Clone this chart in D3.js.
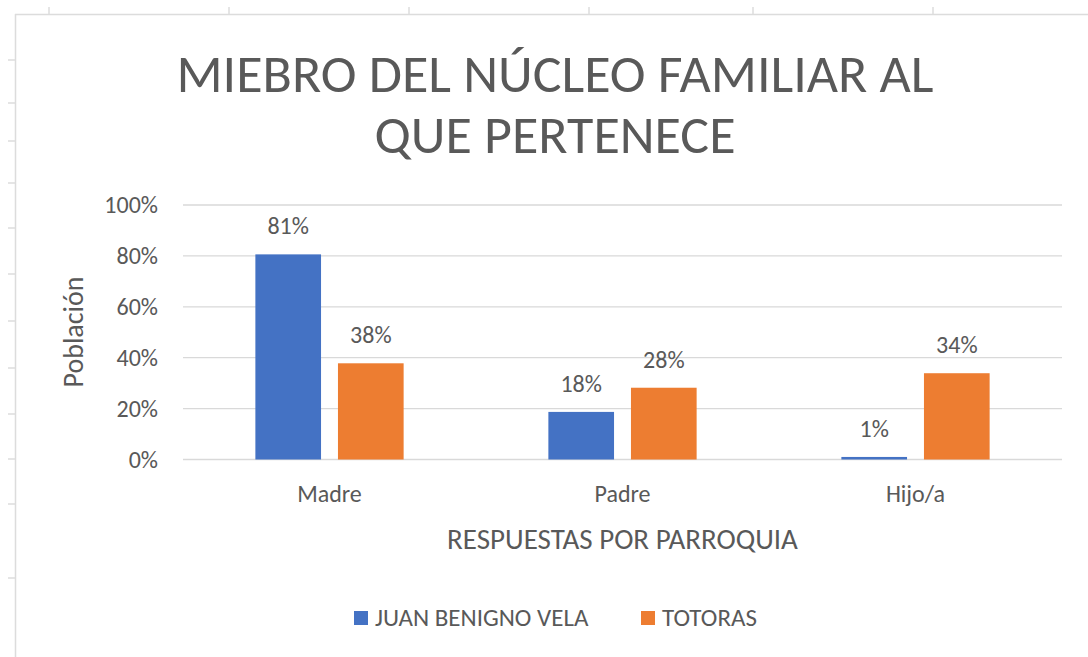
<!DOCTYPE html>
<html>
<head>
<meta charset="utf-8">
<script src="https://cdn.jsdelivr.net/npm/d3@7"></script>
<style>
  body { margin: 0; background: #fff; }
  svg text { font-family: Carlito, Lato, "Open Sans", sans-serif; fill: #595959; }
</style>
</head>
<body>
<div id="chart"></div>
<script>
// data
var categories = ["Madre", "Padre", "Hijo/a"];
var seriesNames = ["JUAN BENIGNO VELA", "TOTORAS"];
var juanBenignoVela = [0.806, 0.187, 0.01];
var totoras = [0.378, 0.282, 0.339];
var dataLabels = [["81%", "18%", "1%"], ["38%", "28%", "34%"]];
var yTicks = [0, 0.2, 0.4, 0.6, 0.8, 1];
var titleLines = ["MIEBRO DEL NÚCLEO FAMILIAR AL", "QUE PERTENECE"];
var colors = ["#4472C4", "#ED7D31"];

// spreadsheet frame behind the chart (column / row borders)
var sheetCols = [49, 229, 409, 589, 753, 933];
var sheetRows = [60, 103, 141, 183, 228, 274, 321, 368, 414, 459, 504, 578];

var W = 1088, H = 657;
var plot = { left: 183, right: 1062, top: 205, bottom: 459.5 };

var svg = d3.select("#chart")
    .append("svg")
    .attr("width", W)
    .attr("height", H);

// sheet lines
var sheet = svg.append("g").attr("stroke", "#dcdcdc").attr("stroke-width", 1.5);
sheet.append("line").attr("x1", 15).attr("x2", W).attr("y1", 14.5).attr("y2", 14.5);
sheet.append("line").attr("x1", 15.5).attr("x2", 15.5).attr("y1", 14).attr("y2", H);
sheet.selectAll(".ct").data(sheetCols).enter().append("line")
    .attr("x1", function (d) { return d }).attr("x2", function (d) { return d })
    .attr("y1", 7).attr("y2", 14);
sheet.selectAll(".rt").data(sheetRows).enter().append("line")
    .attr("y1", function (d) { return d }).attr("y2", function (d) { return d })
    .attr("x1", 8).attr("x2", 15);

// scales
var x0 = d3.scaleBand()
    .domain(categories)
    .range([plot.left, plot.right])
    .paddingInner(0.494)
    .paddingOuter(0.247);
var x1 = d3.scaleBand()
    .domain(seriesNames)
    .range([0, x0.bandwidth()])
    .paddingInner(0.205);
var y = d3.scaleLinear()
    .domain([0, 1])
    .range([plot.bottom, plot.top]);

// gridlines
svg.append("g")
    .selectAll("line")
    .data(yTicks)
    .enter()
    .append("line")
    .attr("x1", plot.left)
    .attr("x2", plot.right)
    .attr("y1", function (d) { return y(d) })
    .attr("y2", function (d) { return y(d) })
    .attr("stroke", "#d9d9d9")
    .attr("stroke-width", 1.3);

// y axis labels
var yAxis = svg.append("g")
    .attr("transform", "translate(" + 158 + ",0)")
    .call(d3.axisLeft(y).tickValues(yTicks).tickSize(0).tickPadding(0).tickFormat(d3.format(".0%")));
yAxis.select(".domain").remove();
yAxis.selectAll("text")
    .style("font-size", "24px")
    .attr("fill", null);

// x axis labels
var xAxis = svg.append("g")
    .attr("transform", "translate(0," + plot.bottom + ")")
    .call(d3.axisBottom(x0).tickSize(0).tickPadding(25));
xAxis.select(".domain").remove();
xAxis.selectAll("text")
    .style("font-size", "24px")
    .attr("fill", null);

// bars
var series = [juanBenignoVela, totoras];
var groups = svg.append("g")
    .selectAll("g")
    .data(series)
    .enter()
    .append("g")
    .attr("fill", function (d, i) { return colors[i] });

function rows(d, i) {
    return d.map(function (v, j) { return { s: i, c: categories[j], v: v, label: dataLabels[i][j] } });
}

groups.selectAll("rect")
    .data(rows)
    .enter()
    .append("rect")
    .attr("x", function (d) { return x0(d.c) + x1(seriesNames[d.s]) })
    .attr("y", function (d) { return y(d.v) })
    .attr("width", x1.bandwidth())
    .attr("height", function (d) { return y(0) - y(d.v) });

// data labels
groups.selectAll("text")
    .data(rows)
    .enter()
    .append("text")
    .attr("x", function (d) { return x0(d.c) + x1(seriesNames[d.s]) + x1.bandwidth() / 2 })
    .attr("y", function (d) { return y(d.v) - 20 })
    .attr("text-anchor", "middle")
    .style("font-size", "24px")
    .text(function (d) { return d.label });

// title
svg.append("g")
    .selectAll("text")
    .data(titleLines)
    .enter()
    .append("text")
    .attr("x", 555)
    .attr("y", function (d, i) { return 92 + i * 61 })
    .attr("text-anchor", "middle")
    .style("font-size", "54px")
    .text(function (d) { return d });

// axis titles
svg.append("text")
    .attr("x", (plot.left + plot.right) / 2)
    .attr("y", 549)
    .attr("text-anchor", "middle")
    .style("font-size", "29px")
    .text("RESPUESTAS POR PARROQUIA");

svg.append("text")
    .attr("transform", "translate(83," + 332 + ") rotate(-90)")
    .attr("text-anchor", "middle")
    .style("font-size", "28px")
    .text("Población");

// legend
var legend = svg.append("g")
    .selectAll("g")
    .data(seriesNames)
    .enter()
    .append("g")
    .attr("transform", function (d, i) { return "translate(" + [354, 641][i] + ",611)" });
legend.append("rect")
    .attr("width", 14)
    .attr("height", 14)
    .attr("fill", function (d, i) { return colors[i] });
legend.append("text")
    .attr("x", 21)
    .attr("y", 15)
    .style("font-size", "25px")
    .text(function (d) { return d });
</script>
</body>
</html>
